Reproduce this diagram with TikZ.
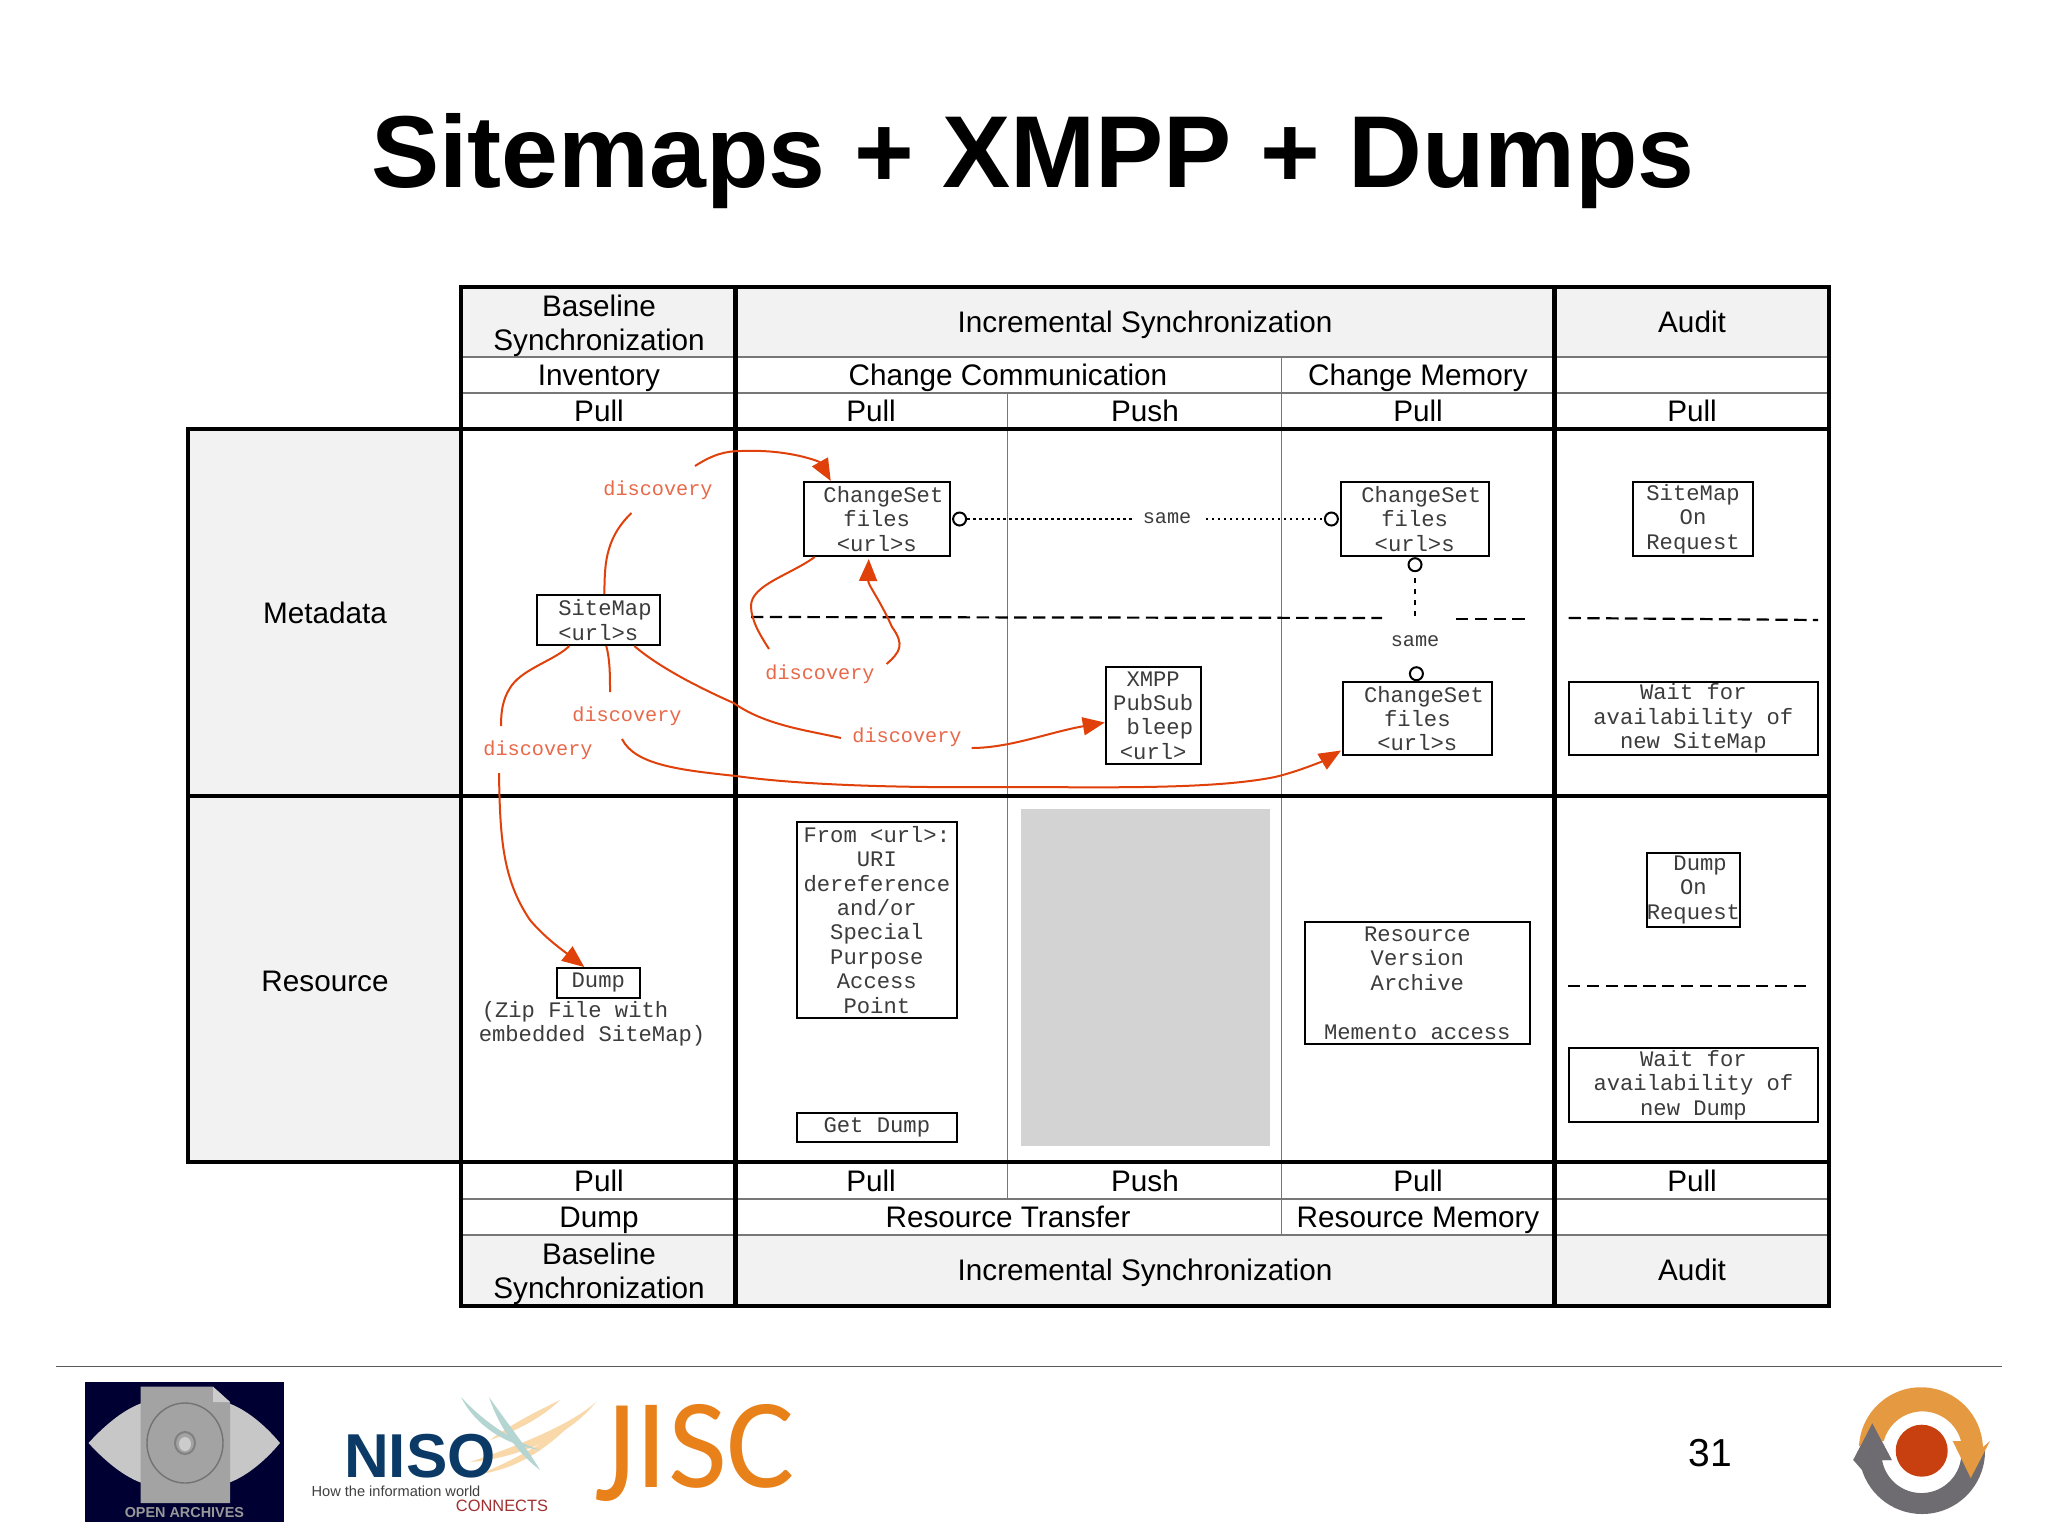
\documentclass[tikz,border=0pt]{standalone}
\usepackage{fontspec}
\setmainfont{Liberation Sans}
\setmonofont{Liberation Mono}
\newfontfamily\carlitofont{Carlito}
\usetikzlibrary{arrows.meta,calc}
\definecolor{cellgrey}{HTML}{F2F2F3}
\definecolor{thinline}{HTML}{777777}
\definecolor{monotext}{HTML}{3C3C3C}
\definecolor{arrowred}{HTML}{E0400A}
\definecolor{labelred}{HTML}{E8694A}
\definecolor{fillbox}{HTML}{D3D3D3}
\definecolor{oainavy}{HTML}{000033}
\definecolor{nisonavy}{HTML}{0B3A66}
\definecolor{nisored}{HTML}{A03030}
\definecolor{jiscor}{HTML}{E8811A}
\definecolor{swoor}{HTML}{F9D8A9}
\definecolor{swote}{HTML}{B5D5D3}
\definecolor{cycor}{HTML}{E59A42}
\definecolor{cycgr}{HTML}{6E6C70}
\definecolor{cycrd}{HTML}{C8400F}
\tikzset{
  thickrule/.style={line width=2.2pt,black,line cap=rect},
  thinrule/.style={line width=0.7pt,thinline},
  head/.style={inner sep=0pt,font=\fontsize{14.85}{16.7}\selectfont,align=center,anchor=base},
  sidehead/.style={inner sep=0pt,align=center,font=\fontsize{14.85}{16.7}\selectfont},
  cellbox/.style={draw=black,line width=1pt,inner sep=0pt,align=center,text=monotext,
     font=\fontsize{11.1}{12.2}\ttfamily\selectfont},
  monolabel/.style={inner sep=0pt,align=center,text=monotext,font=\fontsize{11.1}{12.2}\ttfamily\selectfont},
  samelabel/.style={inner sep=0pt,text=monotext,font=\fontsize{10.1}{12}\ttfamily\selectfont},
  disclabel/.style={inner sep=0pt,text=labelred,font=\fontsize{10.1}{12}\ttfamily\selectfont},
  flow/.style={line width=1pt,arrowred},
  flowhead/.style={flow,-{Triangle[length=11pt,width=9pt]}},
  ringmark/.style={circle,draw=black,fill=white,line width=1pt,minimum size=6.5pt,inner sep=0pt},
  dashrule/.style={line width=1.1pt,black,dash pattern=on 6.2pt off 3.2pt},
  dotrule/.style={line width=1.2pt,black,dash pattern=on 1.2pt off 1.8pt},
  vdotrule/.style={line width=1pt,black,dash pattern=on 2.5pt off 3pt},
}
\newcommand{\bx}[6]{% name, x0, y0, x1, y1, text
  \node[cellbox,minimum width={(#4-#2)*0.5pt},minimum height={(#5-#3)*0.5pt}] (#1) at ({(#2+#4)/2},{(#3+#5)/2}) {#6};}
\begin{document}
\begin{tikzpicture}[x=0.5pt,y=-0.5pt]
\useasboundingbox (0,0) rectangle (2048,1536);
% fills
\fill[white] (0,0) rectangle (2048,1536);
\fill[cellgrey] (461,286) rectangle (1829,357);
\fill[cellgrey] (461,1235) rectangle (1829,1306);
\fill[cellgrey] (188,429) rectangle (461,1162);
\fill[fillbox] (1021,809) rectangle (1270,1146);
% thin rules
\draw[thinrule] (461,357) -- (1829,357);
\draw[thinrule] (461,393) -- (1829,393);
\draw[thinrule] (461,1199) -- (1829,1199);
\draw[thinrule] (461,1235) -- (1829,1235);
\draw[thinrule] (1007.6,393) -- (1007.6,1199);
\draw[thinrule] (1281.5,357) -- (1281.5,1235);
% thick rules
\draw[thickrule] (461,287) rectangle (1829,1306);
\draw[thickrule] (735.4,287) -- (735.4,1306);
\draw[thickrule] (1554.5,287) -- (1554.5,1306);
\draw[thickrule] (188,429) rectangle (1829,1162);
\draw[thickrule] (188,796) -- (1829,796);
% title
\node[inner sep=0pt,anchor=base,font=\fontsize{51.1}{60}\bfseries\selectfont] (title) at (1033,187) {Sitemaps + XMPP + Dumps};
% headers
\node[sidehead] (hbase) at (599,326) {Baseline\\Synchronization};
\node[head] (hinc) at (1145,332.5) {Incremental Synchronization};
\node[head] (haud) at (1692,332.5) {Audit};
\node[head] (hinv) at (599,385) {Inventory};
\node[head] (hcc) at (1008,385) {Change Communication};
\node[head] (hcm) at (1418,385) {Change Memory};
\node[head] (p1) at (599,421.5) {Pull};
\node[head] (p2) at (871,421.5) {Pull};
\node[head] (p3) at (1145,421.5) {Push};
\node[head] (p4) at (1418,421.5) {Pull};
\node[head] (p5) at (1692,421.5) {Pull};
\node[sidehead] (lmeta) at (325,613) {Metadata};
\node[sidehead] (lres) at (325,981) {Resource};
\node[head] (q1) at (599,1191) {Pull};
\node[head] (q2) at (871,1191) {Pull};
\node[head] (q3) at (1145,1191) {Push};
\node[head] (q4) at (1418,1191) {Pull};
\node[head] (q5) at (1692,1191) {Pull};
\node[head] (rdump) at (599,1227) {Dump};
\node[head] (rtrans) at (1008,1227) {Resource Transfer};
\node[head] (rmem) at (1418,1227) {Resource Memory};
\node[sidehead] (fbase) at (599,1274) {Baseline\\Synchronization};
\node[head] (finc) at (1145,1280) {Incremental Synchronization};
\node[head] (faud) at (1692,1280) {Audit};
% boxes
\bx{csa}{803.5}{482}{950}{556}{~ChangeSet\\files\\<url>s}
\bx{smap}{537}{595}{659.6}{645}{~SiteMap\\<url>s}
\bx{csb}{1340.6}{482}{1488.7}{556}{~ChangeSet\\files\\<url>s}
\bx{smor}{1633}{482}{1753}{556}{SiteMap\\On\\Request}
\bx{xmpp}{1105.8}{667}{1200.5}{764}{XMPP\\PubSub\\~bleep\\<url>}
\bx{csc}{1343}{682}{1491.6}{755}{~ChangeSet\\files\\<url>s}
\bx{waita}{1569}{682}{1817.6}{755}{Wait for\\availability of\\new SiteMap}
\bx{dumpb}{556.7}{968}{639.8}{997.7}{Dump}
\bx{from}{796.7}{822}{957}{1017.7}{From <url>:\\URI\\dereference\\and/or\\Special\\Purpose\\Access\\Point}
\bx{getd}{796.7}{1112.7}{957}{1142}{Get Dump}
\bx{rva}{1304.8}{922}{1529.8}{1044.3}{Resource\\Version\\Archive\\~\\Memento access}
\bx{dor}{1646.5}{853}{1740.3}{926.7}{~Dump\\On\\Request}
\bx{waitb}{1568.8}{1048}{1818}{1122}{Wait for\\availability of\\new Dump}
\node[monolabel] (zip) at (592,1024) {(Zip File with\hspace*{17pt}\\embedded SiteMap)};
% labels
\node[disclabel] (da) at (658,490) {discovery};
\node[disclabel] (db) at (820,674) {discovery};
\node[disclabel] (dc) at (627,716) {discovery};
\node[disclabel] (dd) at (538,750) {discovery};
\node[disclabel] (de) at (907,737) {discovery};
\node[samelabel] (sa) at (1167,518) {same};
\node[samelabel] (sb) at (1415,641) {same};
% rings
\node[ringmark] (ra) at (959.6,519) {};
\node[ringmark] (rb) at (1331.4,519) {};
\node[ringmark] (rc) at (1415,564.7) {};
\node[ringmark] (rd) at (1416.4,673.7) {};
% dashed
\coordinate (dsa) at (751,617);
\coordinate (dsb) at (1382,618);
\coordinate (dsc) at (1456,619);
\coordinate (dsd) at (1526,619);
\coordinate (dse) at (1568.5,618);
\coordinate (dsf) at (1818,620);
\coordinate (dsg) at (1568,986);
\coordinate (dsh) at (1811,986);
\draw[dashrule] (dsa) -- (dsb);
\draw[dashrule] (dsc) -- (dsd);
\draw[dashrule] (dse) -- (dsf);
\draw[dashrule] (dsg) -- (dsh);
% dotted
\coordinate (doa) at (1132,519);
\coordinate (dob) at (1206,519);
\coordinate (doc) at (1415,578);
\coordinate (dod) at (1415,617);
\draw[dotrule] (ra) -- (doa);
\draw[dotrule] (dob) -- (rb);
\draw[vdotrule] (doc) -- (dod);
% flows
\coordinate (fa) at (695,466);
\coordinate (fb) at (631.5,513);
\coordinate (fc) at (769,649);
\coordinate (fd) at (886.6,664);
\coordinate (fe) at (501,726);
\coordinate (ff) at (499,773);
\coordinate (fg) at (610,692);
\coordinate (fh) at (622,739);
\coordinate (fi) at (841,738);
\coordinate (fj) at (971.5,748);
\draw[flowhead] (fa) .. controls (712,455) and (725,451) .. (741,451) .. controls (790,449) and (820,462) .. ($(csa.north)+(-46,0)$);
\draw[flow] ($(smap.north)+(6,0)$) .. controls (605,570) and (603,540) .. (fb);
\draw[flow] ($(csa.south)+(-62,0)$) .. controls (790,575) and (751,585) .. (751,606) .. controls (751,620) and (760,635) .. (fc);
\draw[flowhead] (fd) .. controls (900,652) and (905,645) .. (892,627) .. controls (880,600) and (868,585) .. ($(csa.south)+(-8,2)$);
\draw[flow] ($(smap.south)+(-29,0)$) .. controls (555,660) and (525,668) .. (512,685) .. controls (505,695) and (501,705) .. (fe);
\draw[flowhead] (ff) .. controls (500,840) and (503,880) .. (530,920) .. controls (545,938) and (565,952) .. ($(dumpb.north)+(-14,0)$);
\draw[flow] ($(smap.south)+(8,0)$) .. controls (610,660) and (610,675) .. (fg);
\draw[flowhead] (fh) .. controls (635,765) and (680,770) .. (736,776) .. controls (800,785) and (900,788) .. (1000,787) .. controls (1100,787) and (1210,790) .. (1275,777) .. controls (1300,771) and (1325,760) .. ($(csc.west)+(-1,32)$);
\draw[flow] ($(smap.south)+(36,0)$) .. controls (660,668) and (700,688) .. (733.6,703) .. controls (765,725) and (805,730) .. (fi);
\draw[flowhead] (fj) .. controls (1010,748) and (1050,732) .. ($(xmpp.west)+(0,7)$);
% footer
\coordinate (la) at (56,1366.7);
\coordinate (lb) at (2001.7,1366.7);
\draw[line width=0.75pt,black!65] (la) -- (lb);
\node[inner sep=0pt,font=\fontsize{19.5}{22}\selectfont] (pg) at (1710,1453) {31};
% OAI logo
\fill[oainavy] (85,1382) rectangle (284.4,1521.7);
\fill[black!22] (88.5,1443) .. controls (105,1425) and (125,1408) .. (145,1402) -- (225,1402) .. controls (245,1408) and (265,1425) .. (280,1443) .. controls (265,1461) and (245,1478) .. (225,1484) -- (145,1484) .. controls (125,1478) and (105,1461) .. cycle;
\fill[black!36] (140.5,1386.7) -- (213,1386.7) -- (230,1402) -- (230,1503) -- (140.5,1503) -- cycle;
\fill[black!20] (213,1386.7) -- (230,1402) -- (213,1402) -- cycle;
\draw[black!55,line width=0.7pt] (185,1443) ellipse [x radius=38,y radius=40];
\draw[black!50,line width=1pt] (185,1443) ellipse [x radius=10,y radius=11];
\fill[black!20] (185,1444) ellipse [x radius=6,y radius=7];
\node[inner sep=0pt,text=black!40,font=\fontsize{7.2}{8}\bfseries\selectfont] (oai) at (184.4,1512.7) {OPEN ARCHIVES};
% NISO logo
\fill[swoor] (470,1462) .. controls (520,1458) and (570,1435) .. (596,1402) .. controls (570,1425) and (520,1445) .. cycle;
\fill[swoor] (490,1440) .. controls (520,1430) and (545,1415) .. (560,1400) .. controls (535,1412) and (510,1425) .. cycle;
\fill[swoor] (480,1474) .. controls (510,1470) and (540,1455) .. (570,1425) .. controls (540,1445) and (510,1462) .. cycle;
\fill[swote] (461,1397) .. controls (475,1425) and (505,1445) .. (540,1450) .. controls (510,1440) and (482,1420) .. cycle;
\fill[swote] (489,1397) .. controls (500,1430) and (520,1455) .. (540,1470) .. controls (525,1445) and (505,1420) .. cycle;
\node[inner sep=0pt,anchor=base,text depth=0pt,text=nisonavy,font=\fontsize{31}{32}\bfseries\selectfont] (niso) at (420,1477) {NISO};
\node[inner sep=0pt,text=black!75,font=\fontsize{7.3}{9}\selectfont] (nisob) at (396,1491.7) {How the information world};
\node[inner sep=0pt,text=nisored,font=\fontsize{8.2}{9}\selectfont] (nisoc) at (502,1505.7) {CONNECTS};
% JISC
\node[inner sep=0pt,anchor=base,text=jiscor,font=\fontsize{64}{70}\carlitofont\selectfont] (jisc) at (695,1487) {\raisebox{-6.5pt}{\scalebox{1}[1.15]{J}}ISC};
% cycle logo
\fill[cycgr] (1985,1451) arc[start angle=0,end angle=170,radius=63] -- (1853.3,1460) -- (1872.3,1423.3) -- (1891.7,1460) -- (1882,1460) arc[start angle=170,end angle=0,radius=40] -- cycle;
\fill[cycor] (1859,1446) arc[start angle=183,end angle=358,radius=62] -- (1990,1441) -- (1970.7,1478) -- (1952.7,1441) -- (1961,1441) arc[start angle=345,end angle=195,radius=40] -- cycle;
\fill[cycgr] (1853.3,1460) -- (1872.3,1423.3) -- (1891.7,1460) -- (1880,1460) -- (1862,1470) -- cycle;
\fill[cycrd] (1921.7,1450.7) circle[radius=26];
\end{tikzpicture}
\end{document}
